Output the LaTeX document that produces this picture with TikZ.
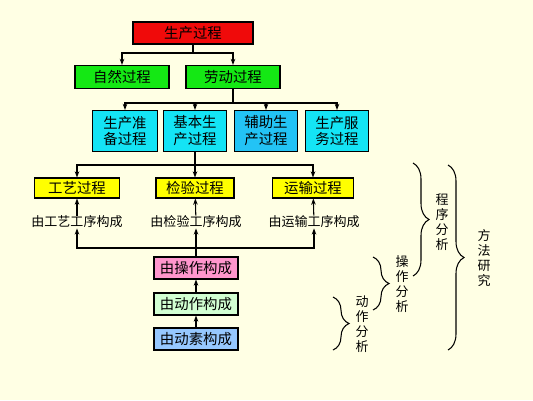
\documentclass[tikz,border=0pt]{standalone}
\usepackage{fontspec}
\setmainfont{Noto Sans CJK SC}
\usepackage{tikz}
\usetikzlibrary{arrows.meta, decorations.pathreplacing}

\definecolor{fond}{RGB}{255,255,228}
\definecolor{rouge}{RGB}{240,10,10}
\definecolor{vert}{RGB}{20,232,20}
\definecolor{cyan1}{RGB}{20,228,245}
\definecolor{cyan2}{RGB}{35,195,245}
\definecolor{jaune}{RGB}{255,255,0}
\definecolor{rose}{RGB}{255,150,205}
\definecolor{vertpale}{RGB}{210,255,210}
\definecolor{bleupale}{RGB}{150,200,255}

\begin{document}
\begin{tikzpicture}[x=0.02cm, y=-0.02cm, >={Stealth[length=3.5pt, width=2.6pt]},
    boite/.style={draw, line width=0.6pt, inner sep=0pt, align=center,
      font=\fontsize{8.2}{9.6}\selectfont},
    texte/.style={inner sep=0pt, font=\fontsize{7.4}{8.5}\selectfont},
    vertical/.style={inner sep=0pt, align=center, font=\fontsize{7.4}{8.5}\selectfont},
    fleche/.style={->, line width=0.6pt},
    accolade/.style={decorate, decoration={brace, amplitude=0.32cm}, line width=0.6pt}]

        % Fond
        \fill [fond] (0,0) rectangle (533,400);
        \useasboundingbox (0,0) rectangle (533,400);

        % Noeuds (boites)
        \node [boite, fill=rouge, minimum width=2.4cm, minimum height=0.44cm] (sc) at (193,33) {生产过程};
        \node [boite, fill=vert, minimum width=1.88cm, minimum height=0.46cm] (zr) at (122,77) {自然过程};
        \node [boite, fill=vert, minimum width=1.88cm, minimum height=0.46cm] (ld) at (233,77) {劳动过程};

        \node [boite, fill=cyan1, minimum width=1.3cm, minimum height=0.82cm] (zb) at (125,131) {生产准\\备过程};
        \node [boite, fill=cyan1, minimum width=1.26cm, minimum height=0.82cm] (jb) at (195,131) {基本生\\产过程};
        \node [boite, fill=cyan2, minimum width=1.26cm, minimum height=0.82cm] (fz) at (266,131) {辅助生\\产过程};
        \node [boite, fill=cyan1, minimum width=1.26cm, minimum height=0.82cm] (fw) at (337,131) {生产服\\务过程};

        \node [boite, fill=jaune, minimum width=1.7cm, minimum height=0.4cm] (gy) at (77,188) {工艺过程};
        \node [boite, fill=jaune, minimum width=1.56cm, minimum height=0.4cm] (jy) at (195,188) {检验过程};
        \node [boite, fill=jaune, minimum width=1.62cm, minimum height=0.4cm] (ys) at (313,188) {运输过程};

        \node [texte] (gyt) at (77,222) {由工艺工序构成};
        \node [texte] (jyt) at (196,222) {由检验工序构成};
        \node [texte] (yst) at (314,222) {由运输工序构成};

        \node [boite, fill=rose, minimum width=1.68cm, minimum height=0.44cm] (cz) at (196,268) {由操作构成};
        \node [boite, fill=vertpale, minimum width=1.68cm, minimum height=0.44cm] (dz) at (196,304) {由动作构成};
        \node [boite, fill=bleupale, minimum width=1.68cm, minimum height=0.44cm] (ds) at (196,339) {由动素构成};

        % Points de branchement
        \coordinate (b1) at (193,53);
        \coordinate (b2) at (233,103);
        \coordinate (b3) at (195,165);
        \coordinate (b4) at (196,248);

        % Fleches vers le bas
        \draw [line width=0.6pt] (sc.south) -- (b1);
        \draw [fleche] (b1) -| (zr.north);
        \draw [fleche] (b1) -| (ld.north);
        \draw [line width=0.6pt] (ld.south) -- (b2);
        \draw [fleche] (b2) -| (zb.north);
        \draw [fleche] (b2) -| (jb.north);
        \draw [fleche] (b2) -| (fz.north);
        \draw [fleche] (b2) -| (fw.north);
        \draw [line width=0.6pt] (jb.south) -- (b3);
        \draw [fleche] (b3) -| (gy.north);
        \draw [fleche] (b3) -| (jy.north);
        \draw [fleche] (b3) -| (ys.north);

        % Fleches vers le haut
        \draw [fleche] (gyt) -- (gy);
        \draw [fleche] (jyt) -- (jy);
        \draw [fleche] (yst) -- (ys);
        \draw [line width=0.6pt] (cz.north) -- (b4);
        \draw [fleche] (b4) -| (gyt.south);
        \draw [fleche] (b4) -| (jyt.south);
        \draw [fleche] (b4) -| (yst.south);
        \draw [fleche] (dz) -- (cz);
        \draw [fleche] (ds) -- (dz);

        % Accolades
        \draw [accolade] (413,163) -- (413,276);
        \draw [accolade] (373,257) -- (373,310);
        \draw [accolade] (333,297) -- (333,350);
        \draw [accolade] (448,165) -- (448,350);

        \node [vertical] (cx) at (442,222) {程\\序\\分\\析};
        \node [vertical] (cz2) at (402,284) {操\\作\\分\\析};
        \node [vertical] (dz2) at (362,324) {动\\作\\分\\析};
        \node [vertical] (ff) at (484,258) {方\\法\\研\\究};

    \end{tikzpicture}
\end{document}
